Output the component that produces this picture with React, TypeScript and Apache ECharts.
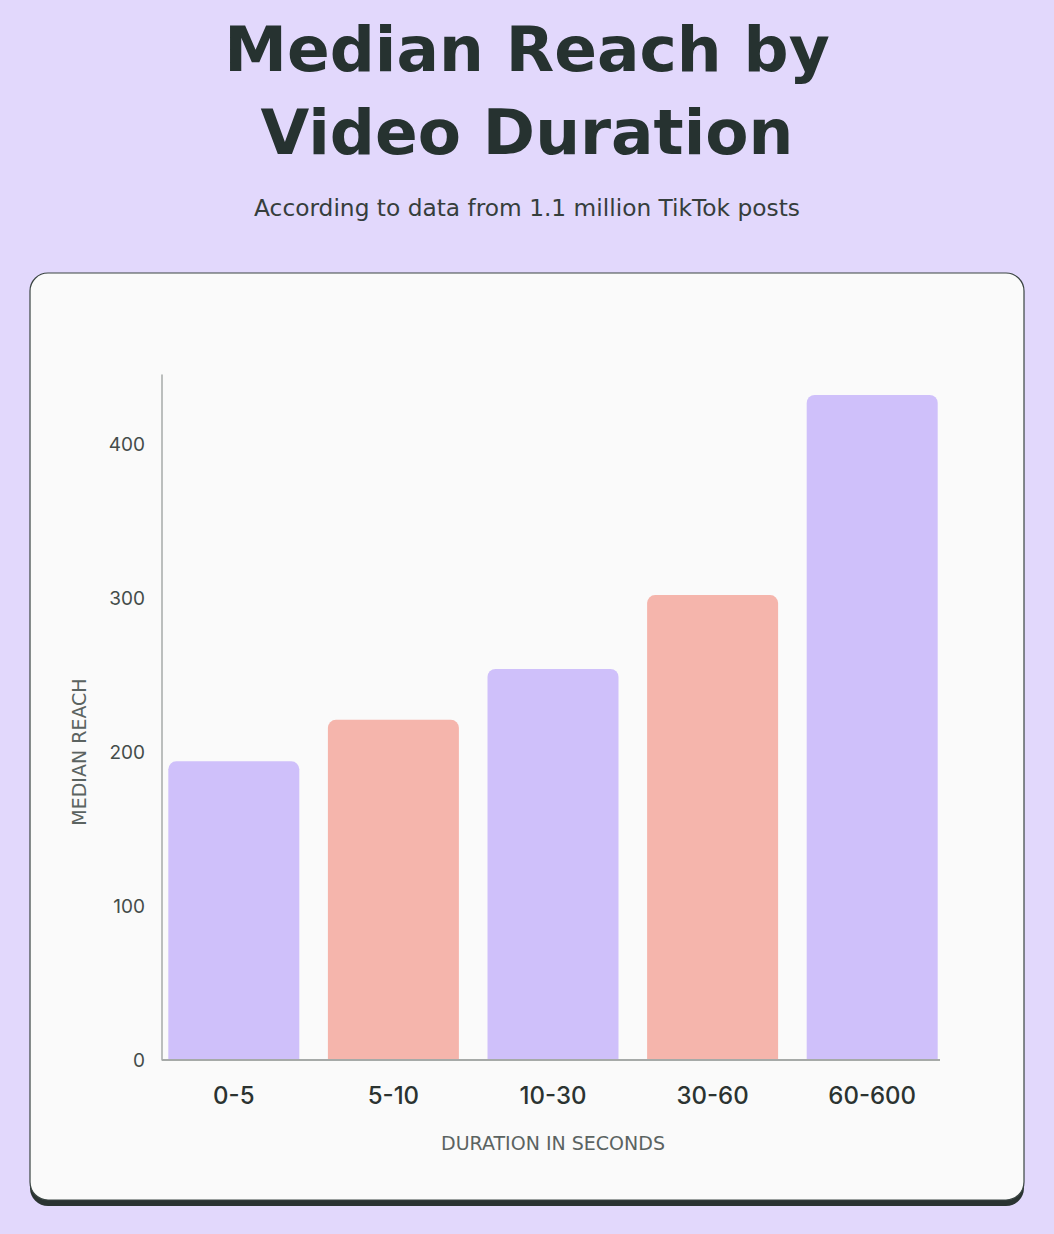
import React, { useEffect, useRef } from 'react';
import * as echarts from 'echarts';

const durations = ['0-5', '5-10', '10-30', '30-60', '60-600'];
const medianReach = [194, 221, 254, 302, 432];
const barColors = ['#CFC0FA', '#F5B5AC', '#CFC0FA', '#F5B5AC', '#CFC0FA'];
const yTicks = [0, 100, 200, 300, 400];

const App = () => {
  const chartRef = useRef<any>(null);

  useEffect(() => {
    const chart = echarts.init(chartRef.current, null, { renderer: 'svg' });
    const font = 'Inter, "Noto Sans", sans-serif';
    const wide = '"DejaVu Sans", Inter, sans-serif';

    const option: any = {
      animation: false,
      backgroundColor: '#E2D8FC',
      graphic: [
        // title + subtitle
        {
          type: 'text',
          x: 527,
          y: 49,
          style: { text: 'Median Reach by', fontFamily: wide, fontSize: 63, fontWeight: 'bold', fill: '#263230', align: 'center', verticalAlign: 'middle' },
        },
        {
          type: 'text',
          x: 527,
          y: 132,
          style: { text: 'Video Duration', fontFamily: wide, fontSize: 63, fontWeight: 'bold', fill: '#263230', align: 'center', verticalAlign: 'middle' },
        },
        {
          type: 'text',
          x: 527,
          y: 207,
          style: {
            text: 'According to data from 1.1 million TikTok posts',
            fontFamily: wide,
            fontSize: 23.3,
            fill: '#363e3c',
            align: 'center',
            verticalAlign: 'middle',
          },
        },
        // card shadow + card
        { type: 'rect', z: -10, shape: { x: 30, y: 279, width: 994, height: 927, r: 18 }, style: { fill: '#2A3331' } },
        { type: 'rect', z: -9, shape: { x: 30, y: 273, width: 994, height: 927, r: 18 }, style: { fill: '#FAFAFA', stroke: '#3a4442', lineWidth: 1.2 } },
        // x baseline
        { type: 'line', z: 10, shape: { x1: 162, y1: 1060, x2: 940, y2: 1060 }, style: { stroke: '#A6AAA8', lineWidth: 2 } },
        // y axis name
        {
          type: 'text',
          x: 79,
          y: 752,
          rotation: Math.PI / 2,
          style: {
            text: 'MEDIAN REACH',
            fontFamily: wide,
            fontSize: 19,
            fill: '#5B6361',
            align: 'center',
            verticalAlign: 'middle',
          },
        },
      ],
      grid: { left: 154, right: 102, top: 375, bottom: 174, containLabel: false },
      xAxis: {
        type: 'category',
        data: durations,
        axisLine: { show: false },
        axisTick: { show: false },
        axisLabel: {
          margin: 23,
          fontFamily: font,
          fontSize: 24,
          fontWeight: 500,
          color: '#2B3331',
        },
        name: 'DURATION IN SECONDS',
        nameLocation: 'middle',
        nameGap: 73,
        nameTextStyle: { fontFamily: wide, fontSize: 19, color: '#5B6361' },
      },
      yAxis: {
        type: 'value',
        min: 0,
        max: 445,
        interval: 100,
        offset: -8,
        splitLine: { show: false },
        axisTick: { show: false },
        axisLine: { show: true, lineStyle: { color: '#A6AAA8', width: 1.5 } },
        axisLabel: {
          margin: 17,
          showMaxLabel: false,
          fontFamily: font,
          fontSize: 19,
          color: '#444C4A',
          formatter: (v: number) => (yTicks.includes(v) ? String(v) : ''),
        },
      },
      series: [
        {
          type: 'bar',
          barWidth: 131,
          data: medianReach.map((v, i) => ({
            value: v,
            itemStyle: { color: barColors[i], borderRadius: [8, 8, 0, 0] },
          })),
        },
      ],
    };

    chart.setOption(option);
    return () => {
      chart.dispose();
    };
  }, []);

  return (
    <div
      ref={chartRef}
      style={{ position: 'absolute', left: 0, top: 0, width: '1054px', height: '1234px' }}
    />
  );
};

export default App;
